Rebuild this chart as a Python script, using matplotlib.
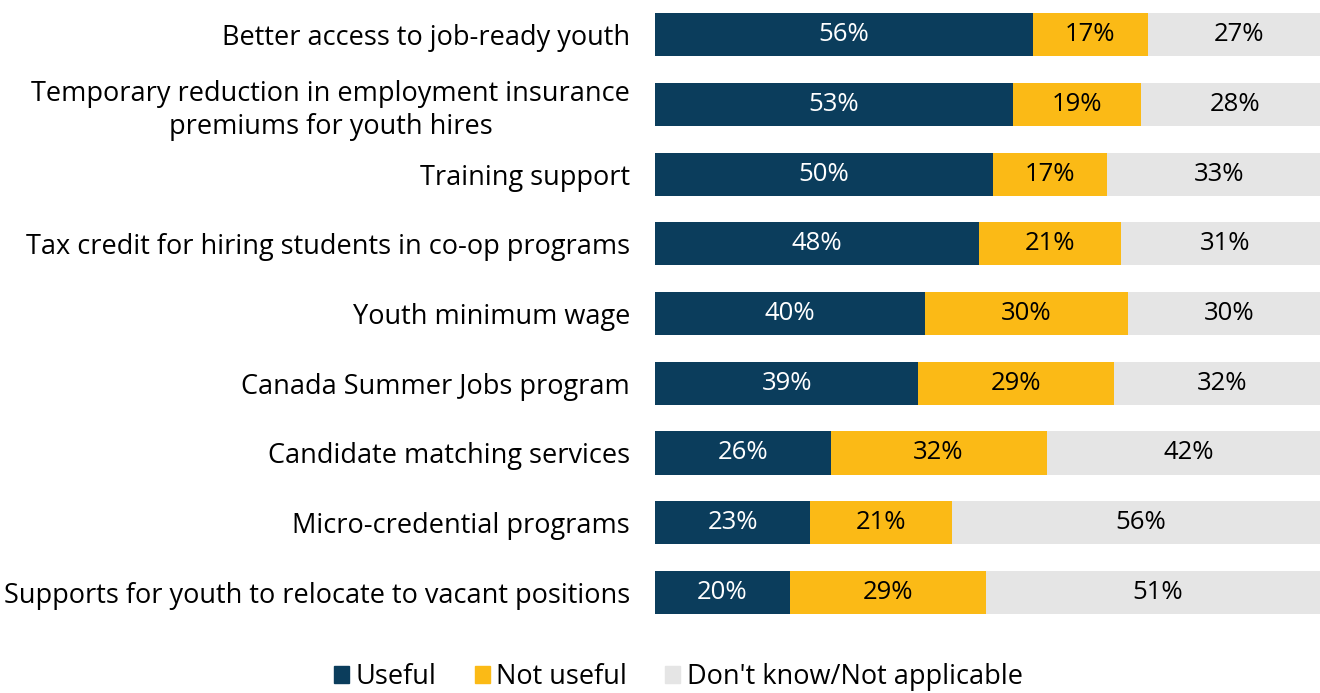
import numpy as np
import matplotlib.pyplot as plt
from matplotlib.patches import Patch

# Survey: usefulness of youth hiring supports
categories = [
    "Better access to job-ready youth",
    "Temporary reduction in employment insurance\npremiums for youth hires",
    "Training support",
    "Tax credit for hiring students in co-op programs",
    "Youth minimum wage",
    "Canada Summer Jobs program",
    "Candidate matching services",
    "Micro-credential programs",
    "Supports for youth to relocate to vacant positions",
]
useful = [56, 53, 50, 48, 40, 39, 26, 23, 20]
not_useful = [17, 19, 17, 21, 30, 29, 32, 21, 29]
dont_know = [27, 28, 33, 31, 30, 32, 42, 56, 51]
series_names = ["Useful", "Not useful", "Don't know/Not applicable"]

colors = ["#0B3D5C", "#FBBA16", "#E5E5E5"]
text_colors = ["white", "black", "black"]

plt.rcParams['font.family'] = ['Open Sans', 'DejaVu Sans']

fig = plt.figure(figsize=(13.2, 6.93), dpi=100)
ax = fig.add_axes([655 / 1320, 0.095, 675 / 1320, 0.905])

y = np.arange(len(categories))
left = np.zeros(len(categories))
for vals, col, tcol in zip([useful, not_useful, dont_know], colors, text_colors):
    vals = np.array(vals, dtype=float)
    ax.barh(y, vals, left=left, height=0.62, color=col, edgecolor='none')
    for yi, l, v in zip(y, left, vals):
        ax.text(l + v / 2, yi, f"{v:.0f}%", ha='center', va='center',
                color=tcol, fontsize=18.5,
                family=['DejaVu Sans Condensed', 'Liberation Sans Narrow', 'Open Sans'])
    left += vals

ax.set_xlim(0, 100)
ax.set_ylim(len(categories) - 0.5, -0.5)
ax.set_yticks(y)
ax.set_yticklabels(categories, fontsize=19.5, linespacing=1.22)
for lbl in ax.get_yticklabels():
    lbl.set_multialignment('center')
ax.tick_params(axis='y', length=0, pad=18)
ax.set_xticks([])
for s in ax.spines.values():
    s.set_visible(False)

handles = [Patch(color=c, label=n) for c, n in zip(colors, series_names)]
fig.legend(handles=handles, loc='center', bbox_to_anchor=(0.514, 16 / 693),
           ncol=3, frameon=False, fontsize=19.5, handlelength=0.55,
           handleheight=0.55, handletextpad=0.25, columnspacing=1.4)

fig.savefig('out.png', dpi=100)
